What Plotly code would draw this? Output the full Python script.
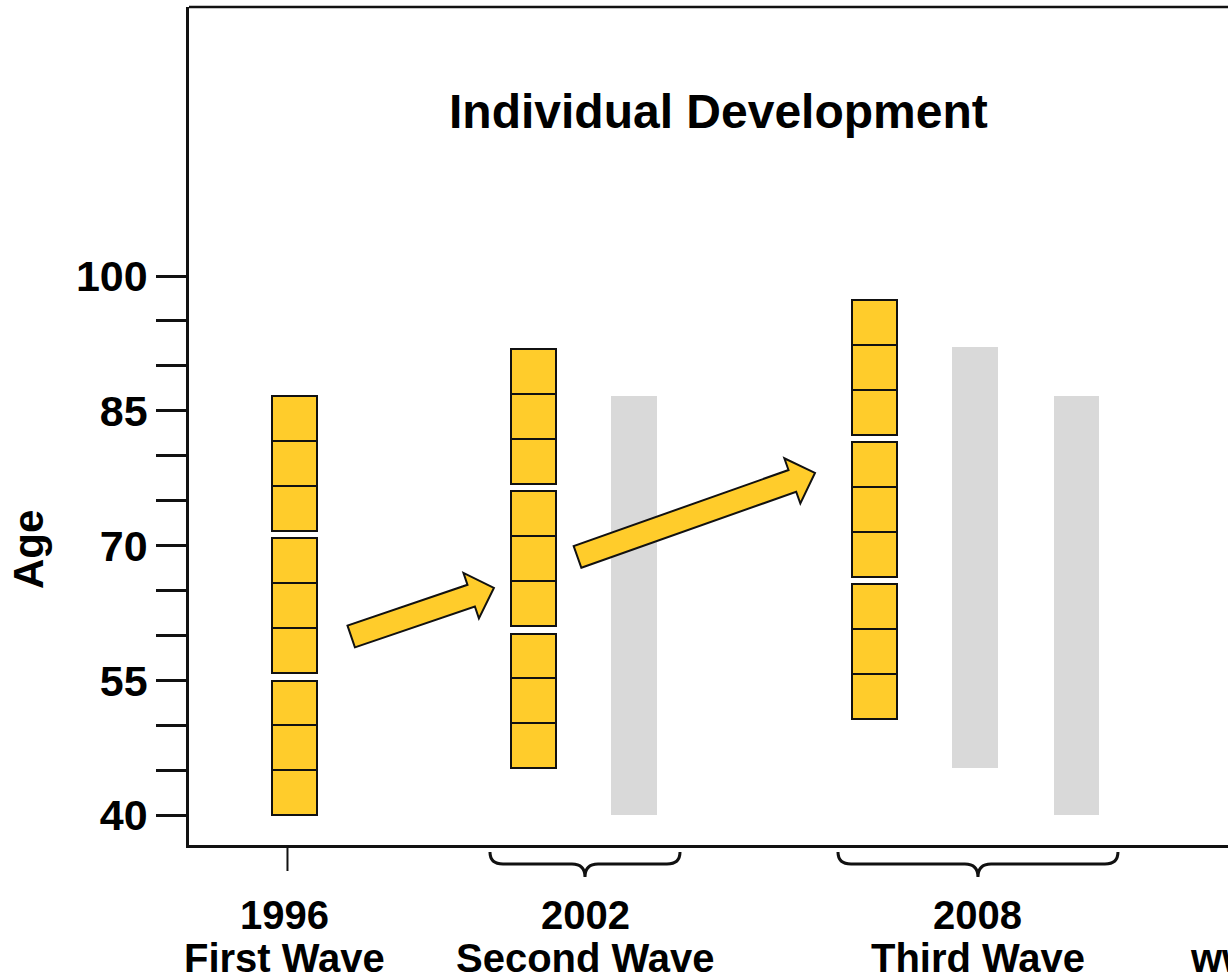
import plotly.graph_objects as go

# ---- data -------------------------------------------------------------
wave_years = ["1996", "2002", "2008"]
wave_names = ["First Wave", "Second Wave", "Third Wave"]

# horizontal slot of each yellow (current sample) column
sample_x = [0.0, 2.38, 5.77]
# youngest age of each wave's sample
sample_base_age = [40.0, 45.23, 50.76]
cohort_span = 15.0        # each cohort block covers 15 years
cell_span = 5.0           # split into 5-year cells
cohort_gap = 0.8          # visual gap between cohort blocks
cohorts_per_wave = 3

# grey columns: earlier samples carried forward to later waves
carried_x = [3.38, 6.77, 7.78]
carried_low = [40.0, 45.3, 40.0]
carried_high = [86.7, 92.1, 86.7]

# developmental arrows: (x_from, age_from, x_to, age_to)
arrows = [
    (0.564, 59.9, 1.984, 65.3),
    (2.816, 68.75, 5.179, 78.1),
]

# where each wave label sits and the horizontal span of its brace
label_x = [-0.1, 2.9, 6.8]
brace_spans = [None, (1.945, 3.836), (5.408, 8.194)]

age_ticks = list(range(40, 101, 5))
age_labels = [str(v) if (v - 40) % 15 == 0 else "" for v in age_ticks]

# ---- geometry / style ----------------------------------------------------
W, H = 1228, 978
PLOT_L, PLOT_R, PLOT_T, PLOT_B = 189, 1228, 7, 845
X_RANGE = (-1.05, 9.289)
Y_RANGE = (36.7, 129.93)
BAR_W = 0.453

YELLOW = "#FFCC2B"
GREY = "#D9D9D9"
INK = "#111111"
FONT = "Liberation Sans, Arial, Helvetica, sans-serif"


def to_px(x, y):
    px = PLOT_L + (x - X_RANGE[0]) / (X_RANGE[1] - X_RANGE[0]) * (PLOT_R - PLOT_L)
    py = PLOT_B - (y - Y_RANGE[0]) / (Y_RANGE[1] - Y_RANGE[0]) * (PLOT_B - PLOT_T)
    return px, py


def from_px(px, py):
    x = X_RANGE[0] + (px - PLOT_L) / (PLOT_R - PLOT_L) * (X_RANGE[1] - X_RANGE[0])
    y = Y_RANGE[0] + (PLOT_B - py) / (PLOT_B - PLOT_T) * (Y_RANGE[1] - Y_RANGE[0])
    return x, y


def paper_y(py):
    return (PLOT_B - py) / (PLOT_B - PLOT_T)


fig = go.Figure()

# grey carried-forward columns
fig.add_trace(go.Bar(
    x=carried_x,
    y=[h - l for l, h in zip(carried_low, carried_high)],
    base=carried_low,
    width=BAR_W,
    marker=dict(color=GREY, line=dict(width=0)),
    hoverinfo="skip",
    showlegend=False,
))

# yellow sample columns made of 5-year cells grouped in cohort blocks
for xs, base in zip(sample_x, sample_base_age):
    bases = []
    for b in range(cohorts_per_wave):
        block_start = base + b * (cohort_span + cohort_gap)
        for c in range(int(cohort_span // cell_span)):
            bases.append(block_start + c * cell_span)
    fig.add_trace(go.Bar(
        x=[xs] * len(bases),
        y=[cell_span] * len(bases),
        base=bases,
        width=BAR_W,
        marker=dict(color=YELLOW, line=dict(color=INK, width=2)),
        hoverinfo="skip",
        showlegend=False,
    ))

shapes = []

# block arrows, built in pixel space so the shaft keeps a constant width
SHAFT_W, HEAD_W, HEAD_L = 23.0, 48.0, 24.0
for x0, y0, x1, y1 in arrows:
    ax, ay = to_px(x0, y0)
    bx, by = to_px(x1, y1)
    dx, dy = bx - ax, by - ay
    ln = (dx * dx + dy * dy) ** 0.5
    ux, uy = dx / ln, dy / ln
    nx, ny = -uy, ux
    sx, sy = bx - ux * HEAD_L, by - uy * HEAD_L
    pts = [
        (ax + nx * SHAFT_W / 2, ay + ny * SHAFT_W / 2),
        (sx + nx * SHAFT_W / 2, sy + ny * SHAFT_W / 2),
        (sx + nx * HEAD_W / 2, sy + ny * HEAD_W / 2),
        (bx, by),
        (sx - nx * HEAD_W / 2, sy - ny * HEAD_W / 2),
        (sx - nx * SHAFT_W / 2, sy - ny * SHAFT_W / 2),
        (ax - nx * SHAFT_W / 2, ay - ny * SHAFT_W / 2),
    ]
    dpts = [from_px(p, q) for p, q in pts]
    path = "M " + " L ".join(f"{x:.5f},{y:.5f}" for x, y in dpts) + " Z"
    shapes.append(dict(type="path", path=path, xref="x", yref="y",
                       fillcolor=YELLOW, line=dict(color=INK, width=2),
                       layer="above"))

# top border of the frame
shapes.append(dict(type="line", xref="paper", yref="paper", x0=0, x1=1, y0=1, y1=1,
                   line=dict(color=INK, width=2.5)))

# marker under the first wave and braces under the later waves
y_top, y_mid, y_tip = paper_y(852), paper_y(864), paper_y(877)
for i, span in enumerate(brace_spans):
    if span is None:
        shapes.append(dict(type="line", xref="x", yref="paper",
                           x0=label_x[i] + 0.03, x1=label_x[i] + 0.03,
                           y0=0, y1=paper_y(871),
                           line=dict(color=INK, width=2)))
        continue
    left, right = span
    mid = (left + right) / 2
    r = 0.13
    path = (f"M {left},{y_top} Q {left},{y_mid} {left + r},{y_mid} "
            f"L {mid - r},{y_mid} Q {mid},{y_mid} {mid},{y_tip} "
            f"Q {mid},{y_mid} {mid + r},{y_mid} "
            f"L {right - r},{y_mid} Q {right},{y_mid} {right},{y_top}")
    shapes.append(dict(type="path", path=path, xref="x", yref="paper",
                       line=dict(color=INK, width=3)))

annotations = [
    dict(text="<b>Individual Development</b>", xref="paper", yref="paper",
         x=(718 - PLOT_L) / (PLOT_R - PLOT_L), y=paper_y(111),
         xanchor="center", yanchor="middle", showarrow=False,
         font=dict(family=FONT, size=48, color="#000")),
    dict(text="<b>Age</b>", xref="paper", yref="paper",
         x=(28 - PLOT_L) / (PLOT_R - PLOT_L), y=paper_y(550),
         xanchor="center", yanchor="middle", textangle=-90, showarrow=False,
         font=dict(family=FONT, size=42, color="#000")),
]
for xl, yr, nm in zip(label_x, wave_years, wave_names):
    annotations.append(dict(text=f"<b>{yr}</b>", xref="x", yref="paper",
                            x=xl, y=paper_y(915), xanchor="center", yanchor="middle",
                            showarrow=False,
                            font=dict(family=FONT, size=40, color="#000")))
    annotations.append(dict(text=f"<b>{nm}</b>", xref="x", yref="paper",
                            x=xl, y=paper_y(958), xanchor="center", yanchor="middle",
                            showarrow=False,
                            font=dict(family=FONT, size=40, color="#000")))
annotations.append(dict(text="<b>www.dza.de</b>", xref="paper", yref="paper",
                        x=(1188 - PLOT_L) / (PLOT_R - PLOT_L), y=paper_y(958),
                        xanchor="left", yanchor="middle", showarrow=False,
                        font=dict(family=FONT, size=40, color="#000")))

fig.update_layout(
    width=W, height=H,
    margin=dict(l=PLOT_L, r=W - PLOT_R, t=PLOT_T, b=H - PLOT_B, pad=0),
    paper_bgcolor="white", plot_bgcolor="white",
    barmode="overlay", bargap=0,
    showlegend=False,
    shapes=shapes,
    annotations=annotations,
    xaxis=dict(range=list(X_RANGE), showgrid=False, zeroline=False,
               showticklabels=False, ticks="", showline=True,
               linecolor=INK, linewidth=2.5, fixedrange=True),
    yaxis=dict(range=list(Y_RANGE), showgrid=False, zeroline=False,
               tickmode="array", tickvals=age_ticks, ticktext=age_labels,
               ticks="outside", ticklen=30, tickwidth=2.5, tickcolor=INK,
               showline=True, linecolor=INK, linewidth=2.5,
               tickfont=dict(family=FONT, size=43, color="#000", weight="bold"),
               fixedrange=True),
)

fig.write_html("out.html", config={"displayModeBar": False})
